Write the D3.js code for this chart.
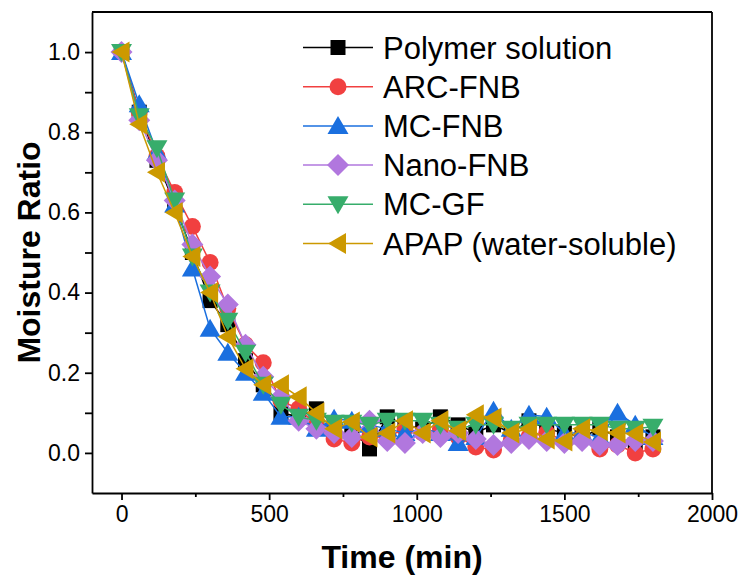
<!DOCTYPE html>
<html>
<head>
<meta charset="utf-8">
<script src="https://cdn.jsdelivr.net/npm/d3@7"></script>
<style>
  body { margin: 0; background: #fff; }
  text { font-family: Arial, "Liberation Sans", sans-serif; }
</style>
</head>
<body>
<div id="chart"></div>
<script>
// time points (min)
var times = [0, 60, 120, 180, 240, 300, 360, 420, 480, 540, 600, 660, 720, 780, 840, 900,
  960, 1020, 1080, 1140, 1200, 1260, 1320, 1380, 1440, 1500, 1560, 1620, 1680, 1740, 1800];

var polymer = [1.0, 0.85, 0.73, 0.62, 0.50, 0.38, 0.32, 0.23, 0.17, 0.10, 0.09, 0.11, 0.07, 0.06, 0.01, 0.09,
  0.07, 0.06, 0.09, 0.07, 0.05, 0.07, 0.05, 0.08, 0.06, 0.05, 0.04, 0.06, 0.04, 0.02, 0.04];
var arcFnb = [1.0, 0.85, 0.74, 0.65, 0.565, 0.475, 0.36, 0.27, 0.225, 0.13, 0.11, 0.07, 0.035, 0.025, 0.04, 0.04,
  0.06, 0.05, 0.06, 0.04, 0.015, 0.007, 0.03, 0.04, 0.05, 0.03, 0.04, 0.01, 0.02, 0.0, 0.01];
var mcFnb = [1.0, 0.87, 0.75, 0.62, 0.46, 0.31, 0.25, 0.20, 0.15, 0.09, 0.09, 0.06, 0.085, 0.08, 0.07, 0.06,
  0.05, 0.06, 0.05, 0.025, 0.04, 0.105, 0.06, 0.095, 0.09, 0.05, 0.05, 0.04, 0.10, 0.07, 0.04];
var nanoFnb = [1.0, 0.83, 0.73, 0.63, 0.52, 0.44, 0.37, 0.27, 0.19, 0.14, 0.08, 0.06, 0.05, 0.04, 0.08, 0.03,
  0.025, 0.05, 0.04, 0.05, 0.035, 0.02, 0.025, 0.035, 0.03, 0.025, 0.03, 0.02, 0.02, 0.03, 0.03];
var mcGf = [1.0, 0.84, 0.76, 0.63, 0.49, 0.40, 0.33, 0.25, 0.17, 0.12, 0.09, 0.08, 0.075, 0.075, 0.07, 0.08,
  0.08, 0.08, 0.07, 0.06, 0.07, 0.07, 0.06, 0.07, 0.07, 0.07, 0.07, 0.07, 0.06, 0.06, 0.065];
var apap = [1.0, 0.82, 0.70, 0.60, 0.49, 0.40, 0.29, 0.21, 0.17, 0.17, 0.14, 0.10, 0.06, 0.077, 0.04, 0.05,
  0.08, 0.05, 0.08, 0.055, 0.095, 0.087, 0.05, 0.06, 0.035, 0.03, 0.06, 0.055, 0.05, 0.048, 0.027];

var seriesNames = ["Polymer solution", "ARC-FNB", "MC-FNB", "Nano-FNB", "MC-GF", "APAP (water-soluble)"];
var seriesValues = [polymer, arcFnb, mcFnb, nanoFnb, mcGf, apap];
var seriesColors = ["#000000", "#F14040", "#1A6FDF", "#B177DE", "#37AD6B", "#CC9900"];
var seriesShapes = ["square", "circle", "up", "diamond", "down", "left"];

var xTicks = [0, 500, 1000, 1500, 2000];
var yTicks = [0.0, 0.2, 0.4, 0.6, 0.8, 1.0];

function init() {
  var w = 742, h = 577;
  var left = 92, right = 712, top = 12, bottom = 493;

  var x = d3.scaleLinear().domain([-100, 2000]).range([left, right]);
  var y = d3.scaleLinear().domain([-0.1, 1.1]).range([bottom, top]);

  var svg = d3.select("#chart").append("svg")
    .attr("width", w).attr("height", h);

  // marker path for a given shape
  function marker(shape) {
    var p = d3.path();
    if (shape === "square") { p.rect(-7.5, -7.5, 15, 15); }
    else if (shape === "circle") { p.arc(0, 0, 8.5, 0, 2 * Math.PI); }
    else if (shape === "up") { p.moveTo(0, -10); p.lineTo(10.5, 8); p.lineTo(-10.5, 8); p.closePath(); }
    else if (shape === "down") { p.moveTo(0, 10); p.lineTo(10.5, -8); p.lineTo(-10.5, -8); p.closePath(); }
    else if (shape === "left") { p.moveTo(-10, 0); p.lineTo(8, -10.5); p.lineTo(8, 10.5); p.closePath(); }
    else if (shape === "diamond") { p.moveTo(0, -11); p.lineTo(11, 0); p.lineTo(0, 11); p.lineTo(-11, 0); p.closePath(); }
    return p.toString();
  }

  var line = d3.line()
    .x(function(d, i) { return x(times[i]); })
    .y(function(d) { return y(d); });

  // series: line then markers
  var groups = svg.selectAll("g.series")
    .data(seriesValues)
    .enter().append("g")
    .attr("class", "series");

  groups.append("path")
    .attr("d", function(d) { return line(d); })
    .attr("fill", "none")
    .attr("stroke", function(d, i) { return seriesColors[i]; })
    .attr("stroke-width", 1.5);

  groups.each(function(vals, si) {
    d3.select(this).selectAll("path.pt")
      .data(vals)
      .enter().append("path")
      .attr("class", "pt")
      .attr("d", marker(seriesShapes[si]))
      .attr("transform", function(d, i) { return "translate(" + x(times[i]) + "," + y(d) + ")"; })
      .attr("fill", seriesColors[si]);
  });

  // axes
  var xAxis = d3.axisBottom(x).tickValues(xTicks).tickSize(7).tickSizeOuter(0).tickPadding(6)
    .tickFormat(d3.format("d"));
  svg.append("g").attr("transform", "translate(0," + bottom + ")").call(xAxis);

  var xMinor = d3.axisBottom(x).tickValues([250, 750, 1250, 1750]).tickSize(4).tickSizeOuter(0).tickFormat("");
  var gxm = svg.append("g").attr("transform", "translate(0," + bottom + ")").call(xMinor);
  gxm.select(".domain").remove();

  var yAxis = d3.axisLeft(y).tickValues(yTicks).tickSize(7).tickSizeOuter(0).tickPadding(5)
    .tickFormat(d3.format(".1f"));
  svg.append("g").attr("transform", "translate(" + left + ",0)").call(yAxis);

  var yMinor = d3.axisLeft(y).tickValues([0.1, 0.3, 0.5, 0.7, 0.9]).tickSize(7).tickSizeOuter(0).tickFormat("");
  var gym = svg.append("g").attr("transform", "translate(" + left + ",0)").call(yMinor);
  gym.select(".domain").remove();

  svg.selectAll(".tick text").style("font-size", "23px").attr("fill", "#000");
  svg.selectAll(".domain, .tick line").attr("stroke", "#000").attr("stroke-width", 1.8);

  // top and right frame
  svg.append("line").attr("x1", left).attr("x2", right).attr("y1", top).attr("y2", top)
    .attr("stroke", "#000").attr("stroke-width", 1.8);
  svg.append("line").attr("x1", right).attr("x2", right).attr("y1", top).attr("y2", bottom)
    .attr("stroke", "#000").attr("stroke-width", 1.8);

  // axis titles
  svg.append("text")
    .attr("x", (left + right) / 2).attr("y", 568)
    .attr("text-anchor", "middle")
    .style("font-size", "32px").style("font-weight", "bold")
    .text("Time (min)");

  svg.append("text")
    .attr("transform", "translate(40," + ((top + bottom) / 2) + ") rotate(-90)")
    .attr("text-anchor", "middle")
    .style("font-size", "32px").style("font-weight", "bold")
    .text("Moisture Ratio");

  // legend
  var leg = svg.selectAll("g.legend")
    .data(seriesNames)
    .enter().append("g")
    .attr("class", "legend")
    .attr("transform", function(d, i) { return "translate(303," + (47.5 + i * 39.2) + ")"; });

  leg.append("line")
    .attr("x1", 0).attr("x2", 70).attr("y1", 0).attr("y2", 0)
    .attr("stroke", function(d, i) { return seriesColors[i]; })
    .attr("stroke-width", 1.5);

  leg.append("path")
    .attr("d", function(d, i) { return marker(seriesShapes[i]); })
    .attr("transform", "translate(35,0)")
    .attr("fill", function(d, i) { return seriesColors[i]; });

  leg.append("text")
    .attr("x", 80).attr("y", 0).attr("dy", "0.36em")
    .style("font-size", "31px")
    .text(function(d) { return d; });
}
window.onload = init;
</script>
</body>
</html>
